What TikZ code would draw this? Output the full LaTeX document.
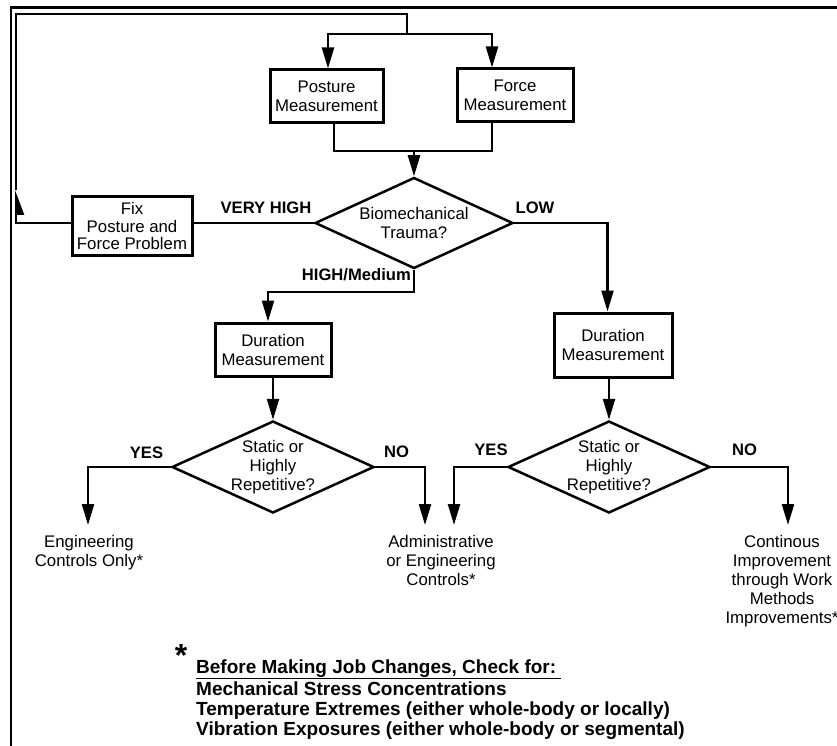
\documentclass[tikz,border=0pt]{standalone}
\usepackage{fontspec}
\setmainfont{Liberation Sans}
\usetikzlibrary{arrows.meta,shapes.geometric}
\begin{document}
\begin{tikzpicture}[x=1pt,y=-1pt,
  every node/.style={font=\fontsize{16.8}{19}\selectfont, inner sep=0pt},
  stepbox/.style={draw, line width=3pt, align=center},
  decision/.style={draw, diamond, line width=2.5pt, align=center, aspect=2.2},
  wire/.style={line width=2.4pt},
  flow/.style={wire, -{Triangle[length=21pt,width=12pt]}},
  loopwire/.style={line width=2pt},
  tag/.style={font=\bfseries\fontsize{16.6}{19}\selectfont},
  outcome/.style={align=center, anchor=north, inner ysep=10pt, inner xsep=0pt},
  note/.style={font=\bfseries\fontsize{19}{20}\selectfont, anchor=base west},
]
\useasboundingbox (0,0) rectangle (837,746);

% page frame (top and left edges)
\draw[line width=2.2pt] (837,7.5) -- (11,7.5) -- (11,746);

% measurement boxes
\node[stepbox, minimum width=113pt, minimum height=53pt] (posture) at (326.5,96.5) {Posture\\Measurement};
\node[stepbox, minimum width=116pt, minimum height=53pt] (force) at (515,95.5) {Force\\Measurement};

% first decision
\node[decision, minimum width=198pt, minimum height=91pt] (bio) at (414,223) {Biomechanical\\Trauma?};
\node[stepbox, minimum width=120pt, minimum height=59pt, font=\fontsize{16.8}{17.5}\selectfont] (fix) at (132,226) {Fix\\Posture and\\Force Problem};

% duration boxes
\node[stepbox, minimum width=116pt, minimum height=53pt] (durL) at (273,349.5) {Duration\\Measurement};
\node[stepbox, minimum width=118pt, minimum height=64pt] (durR) at (613,345) {Duration\\Measurement};

% second-level decisions
\node[decision, minimum width=195pt, minimum height=92pt] (sdL) at (273,467) {Static or\\Highly\\Repetitive?};
\node[decision, minimum width=193pt, minimum height=92pt] (sdR) at (609,467) {Static or\\Highly\\Repetitive?};

% outcomes
\node[outcome] (eng) at (89,525) {Engineering\\Controls Only*};
\node[outcome] (admin) at (441,525) {Administrative\\or Engineering\\Controls*};
\node[outcome] (cont) at (782,525) {Continous\\Improvement\\through Work\\Methods\\Improvements*};

% feedback loop
\coordinate (loopmid) at (16,190);
\coordinate (looptop) at (407,14);
\coordinate (split) at (407,34);
\draw[loopwire, -{Triangle[length=22pt,width=16pt,harpoon,swap]}] (fix.west |- bio.west) -| (loopmid);
\draw[loopwire] (loopmid) |- (looptop) -- (split);
\draw[flow] (split) -| ([xshift=1.5pt]posture.north);
\draw[flow] (split) -| ([xshift=-23pt]force.north);

% merge into first decision
\coordinate (merge) at (414,151);
\draw[wire] ([xshift=7.5pt]posture.south) |- (merge) -| ([xshift=-23pt]force.south);
\draw[flow] (merge) -- (bio.north);

% branches of first decision
\draw[wire] (bio.west) -- (fix.east |- bio.west);
\node[tag] (vh) at (266,208) {VERY HIGH};
\coordinate (hm) at (414,292);
\draw[flow] (bio.south) -- (hm) -| ([xshift=-5pt]durL.north);
\node[tag, anchor=east] (hml) at (411,275) {HIGH/Medium};
\draw[flow] (bio.east) -| ([xshift=-5.5pt]durR.north);
\node[tag] (low) at (535,208) {LOW};

% duration to decisions
\draw[flow] (durL.south) -- (sdL.north);
\draw[flow] (durR.south -| sdR.north) -- (sdR.north);

% branches of second-level decisions
\draw[flow] (sdL.west) -| ([xshift=-1pt]eng.north);
\draw[flow] (sdL.east) -| ([xshift=-16pt]admin.north);
\draw[flow] (sdR.west) -| ([xshift=13pt]admin.north);
\draw[flow] (sdR.east) -| ([xshift=6pt]cont.north);
\node[tag] (yesL) at (146.5,453) {YES};
\node[tag] (noL) at (396.5,452) {NO};
\node[tag] (yesR) at (491,450) {YES};
\node[tag] (noR) at (744.5,450) {NO};

% footnote
\node[font=\bfseries\fontsize{32}{32}\selectfont, anchor=base] (star) at (181,666) {*};
\node[note] (n1) at (196,673) {\underline{Before Making Job Changes, Check for:\ }};
\node[note] (n2) at (196,695) {Mechanical Stress Concentrations};
\node[note] (n3) at (196,715) {Temperature Extremes (either whole-body or locally)};
\node[note] (n4) at (196,735) {Vibration Exposures (either whole-body or segmental)};
\end{tikzpicture}
\end{document}
